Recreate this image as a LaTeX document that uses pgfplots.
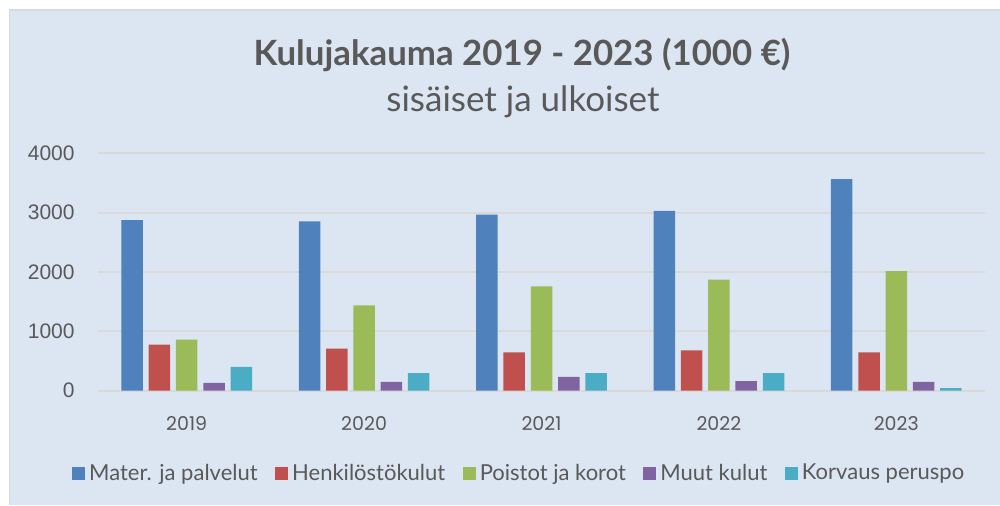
\documentclass[border=0pt]{standalone}
\usepackage{pgfplots}
\pgfplotsset{compat=1.18}
\usepackage{fontspec}
\setmainfont{Lato}
\newfontfamily\xtfont{Poppins}
\newfontfamily\ytfont{Liberation Sans}
\definecolor{bg}{HTML}{DCE6F2}
\definecolor{bordergray}{HTML}{D9D9D9}
\definecolor{gridgray}{HTML}{D9D9D9}
\definecolor{txt}{HTML}{595959}
\definecolor{c1}{HTML}{4F81BD}
\definecolor{c2}{HTML}{C0504D}
\definecolor{c3}{HTML}{9BBB59}
\definecolor{c4}{HTML}{8064A2}
\definecolor{c5}{HTML}{4BACC6}
\begin{document}
\begin{tikzpicture}
\path[use as bounding box] (0pt,0pt) rectangle (500pt,252.5pt);
\fill[white] (0pt,0pt) rectangle (500pt,252.5pt);
\fill[bg] (4.75pt,0pt) rectangle (500pt,247.5pt);
\draw[bordergray, line width=0.75pt] (4.75pt,0pt) -- (4.75pt,247.5pt) -- (500pt,247.5pt);
\node[anchor=base, inner sep=0pt, text=txt, font=\fontsize{17.4}{20}\selectfont\bfseries] at (261pt,220pt) {Kulujakauma 2019 - 2023 (1000 €)};
\node[anchor=base, inner sep=0pt, text=txt, font=\fontsize{17.5}{20}\selectfont] at (261.5pt,197pt) {sisäiset ja ulkoiset};
\begin{axis}[
  at={(49pt,57.15pt)}, anchor=south west,
  scale only axis, width=443.5pt, height=118.7pt,
  xmin=-0.5, xmax=4.5, ymin=0, ymax=4000,
  ybar=2.9pt, bar width=10.75pt,
  axis line style={draw=none},
  major tick length=0pt,
  ymajorgrids, grid style={gridgray, line width=1pt},
  xtick={0,1,2,3,4}, xticklabels={2019,2020,2021,2022,2023},
  ytick={0,1000,2000,3000,4000},
  /pgf/number format/1000 sep={},
  /pgf/number format/assume math mode=true,
  yticklabel style={font=\ytfont\fontsize{10.5}{12}\selectfont, text=txt, anchor=east, inner sep=0pt, xshift=-11.5pt},
  xticklabel style={font=\xtfont\fontsize{9.5}{11}\selectfont, text=txt, anchor=base, inner sep=0pt, yshift=-19.65pt},
  legend columns=5,
  legend style={at={(0.476,-0.349)}, anchor=center, draw=none, fill=none,
    font=\fontsize{11}{13}\selectfont, text=txt,
    /tikz/every even column/.append style={column sep=6.75pt}},
  legend image code/.code={\fill[#1] (0pt,-3.25pt) rectangle (6.5pt,3.25pt);},
]
\addplot[fill=c1, draw=none] coordinates {(0,2876) (1,2854) (2,2966) (3,3028) (4,3567)};
\addplot[fill=c2, draw=none] coordinates {(0,775) (1,708) (2,647) (3,681) (4,647)};
\addplot[fill=c3, draw=none] coordinates {(0,860) (1,1439) (2,1759) (3,1870) (4,2017)};
\addplot[fill=c4, draw=none] coordinates {(0,130) (1,147) (2,231) (3,163) (4,147)};
\addplot[fill=c5, draw=none] coordinates {(0,400) (1,298) (2,298) (3,298) (4,45)};
\legend{Mater. ja palvelut, Henkilöstökulut, Poistot ja korot, Muut kulut, Korvaus peruspo}
\end{axis}
\end{tikzpicture}
\end{document}
